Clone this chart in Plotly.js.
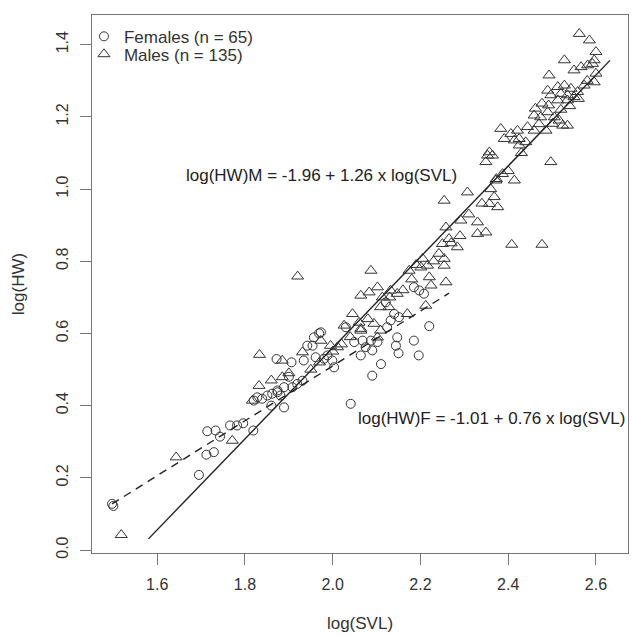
<!DOCTYPE html>
<html>
<head>
<meta charset="utf-8">
<script src="https://cdn.plot.ly/plotly-3.0.1.min.js"></script>
<style>html,body{margin:0;padding:0;background:#fff;}#chart{width:632px;height:637px;}</style>
</head>
<body>
<div id="chart"></div>
<script>
// ---- Data (log SVL, log HW) ----
const femaleX = [1.497,1.500,1.695,1.712,1.729,1.714,1.733,1.743,1.766,1.782,1.796,1.819,1.820,1.828,1.839,1.851,1.862,1.874,
  1.872,1.906,1.934,1.954,1.969,1.961,1.980,1.988,1.999,2.003,2.030,2.049,2.068,2.075,2.090,2.064,2.090,2.041,
  1.889,1.874,1.889,1.908,1.919,1.931,1.881,2.185,2.197,2.208,2.121,2.140,2.151,2.132,2.124,2.087,2.102,2.147,
  2.185,2.144,1.957,1.973,1.942,2.196,2.110,2.150,2.220,1.860,1.900];
const femaleY = [0.128,0.122,0.208,0.264,0.271,0.329,0.331,0.314,0.345,0.345,0.351,0.331,0.414,0.423,0.419,0.428,0.433,0.437,
  0.529,0.520,0.525,0.566,0.600,0.534,0.530,0.539,0.525,0.506,0.617,0.576,0.580,0.562,0.553,0.539,0.483,0.405,
  0.395,0.442,0.451,0.451,0.460,0.469,0.428,0.728,0.719,0.710,0.686,0.654,0.645,0.636,0.617,0.580,0.576,0.589,
  0.580,0.566,0.589,0.603,0.566,0.539,0.515,0.545,0.620,0.400,0.480];

const maleX = [1.518,1.643,1.771,1.832,1.833,1.885,1.931,1.973,2.011,2.045,2.064,1.885,1.817,1.920,
  2.349,2.364,2.307,2.254,2.373,2.292,2.357,2.376,2.330,2.349,2.330,2.258,2.250,2.265,2.284,2.242,2.254,
  2.205,2.216,2.201,2.254,2.087,2.174,2.220,2.224,2.258,2.212,2.064,2.083,2.102,2.113,2.132,2.147,2.128,2.109,
  2.026,2.170,2.064,2.094,2.109,2.102,1.995,
  2.562,2.585,2.600,2.596,2.528,2.550,2.566,2.581,2.592,2.596,2.493,2.490,2.513,2.528,2.543,2.558,2.573,
  2.497,2.520,2.535,2.550,2.535,2.513,2.462,2.477,2.492,2.459,2.474,2.490,2.505,2.516,2.501,2.524,2.535,
  2.486,2.459,2.444,2.383,2.406,2.421,2.425,2.391,2.425,2.414,2.497,2.357,2.353,2.414,2.372,2.387,2.368,
  2.477,2.408,
  1.860,1.900,1.950,1.970,2.000,2.020,2.040,2.060,2.080,2.130,2.160,2.180,2.190,2.230,2.270,2.290,2.310,
  2.340,2.360,2.400,2.430,2.440,2.470,2.520,2.540,2.560,2.580,2.600];
const maleY = [0.042,0.257,0.303,0.455,0.541,0.525,0.548,0.580,0.562,0.654,0.613,0.479,0.414,0.758,
  1.075,1.093,0.991,0.968,1.028,0.913,0.959,0.950,0.908,0.880,0.876,0.894,0.848,0.862,0.839,0.821,0.807,
  0.807,0.788,0.783,0.788,0.774,0.774,0.756,0.733,0.742,0.677,0.705,0.714,0.728,0.700,0.719,0.710,0.673,0.673,
  0.622,0.654,0.608,0.627,0.608,0.589,0.566,
  1.430,1.412,1.380,1.357,1.357,1.329,1.338,1.343,1.347,1.296,1.315,1.273,1.283,1.287,1.278,1.269,1.287,
  1.260,1.264,1.260,1.255,1.246,1.246,1.223,1.237,1.232,1.204,1.199,1.213,1.199,1.190,1.181,1.176,1.176,
  1.162,1.162,1.172,1.167,1.153,1.162,1.139,1.139,1.121,1.135,1.075,1.102,1.093,1.024,1.024,1.042,0.978,
  0.846,0.846,
  0.470,0.490,0.500,0.520,0.550,0.570,0.590,0.630,0.640,0.700,0.720,0.750,0.790,0.800,0.850,0.870,0.930,
  0.960,1.000,1.050,1.100,1.130,1.180,1.220,1.230,1.250,1.300,1.320];

// regression fits: [intercept, slope] and x extent of each drawn line
const maleFit = [-1.96, 1.26];
const maleFitRange = [1.58, 2.632];
const femaleFit = [-1.01, 0.76];
const femaleFitRange = [1.497, 2.265];

const legendNames = ["Females (n = 65)", "Males (n = 135)"];
const eqMale = "log(HW)M = -1.96 + 1.26 x log(SVL)";
const eqFemale = "log(HW)F = -1.01 + 0.76 x log(SVL)";

const FONT = "Liberation Sans, Arial, Helvetica, sans-serif";
const INK = "#333";

const traces = [
  {x: femaleX, y: femaleY, type: "scatter", mode: "markers", name: legendNames[0], legend: "legend",
   marker: {symbol: "circle-open", size: 9, color: INK, line: {width: 1, color: INK}}},
  {x: maleX, y: maleY, type: "scatter", mode: "markers", name: legendNames[1], legend: "legend2",
   marker: {symbol: "triangle-up-open", size: 10.5, color: INK, line: {width: 1, color: INK}}},
  {x: maleFitRange, y: maleFitRange.map(v => maleFit[0] + maleFit[1] * v), type: "scatter", mode: "lines",
   showlegend: false, hoverinfo: "skip", line: {color: "#222", width: 1.4}},
  {x: femaleFitRange, y: femaleFitRange.map(v => femaleFit[0] + femaleFit[1] * v), type: "scatter", mode: "lines",
   showlegend: false, hoverinfo: "skip", line: {color: "#222", width: 1.4, dash: "8px,6px"}}
];

const axisCommon = {
  showgrid: false, zeroline: false, showline: true, mirror: true,
  linecolor: "#777", linewidth: 1, ticks: "outside", ticklen: 11, tickcolor: "#777", tickwidth: 1,
  ticklabelstandoff: 6,
  dtick: 0.2, tickformat: ".1f", tickfont: {family: FONT, size: 16, color: INK}
};

const legendCommon = {x: -0.015, xanchor: "left", yanchor: "top", bgcolor: "rgba(0,0,0,0)",
  font: {family: FONT, size: 17, color: INK}, itemwidth: 30};

const layout = {
  width: 632, height: 637,
  margin: {l: 92, r: 4, t: 15, b: 84},
  paper_bgcolor: "#fff", plot_bgcolor: "#fff",
  font: {family: FONT, size: 16, color: INK},
  xaxis: Object.assign({}, axisCommon, {
    range: [1.4513, 2.673], tick0: 1.6,
    title: {text: "log(SVL)", font: {family: FONT, size: 17, color: INK}, standoff: 24}
  }),
  yaxis: Object.assign({}, axisCommon, {
    range: [-0.0083, 1.482], tick0: 0, tickangle: -90,
    title: {text: "log(HW)", font: {family: FONT, size: 17, color: INK}, standoff: 24}
  }),
  legend: Object.assign({}, legendCommon, {y: 0.993}),
  legend2: Object.assign({}, legendCommon, {y: 0.960}),
  annotations: [
    {text: eqMale, x: 1.975, y: 1.038, xref: "x", yref: "y", showarrow: false,
     font: {family: FONT, size: 17, color: "#222"}},
    {text: eqFemale, x: 2.363, y: 0.364, xref: "x", yref: "y", showarrow: false,
     font: {family: FONT, size: 17, color: "#222"}}
  ]
};

Plotly.newPlot("chart", traces, layout, {staticPlot: true, displayModeBar: false});
</script>
</body>
</html>
